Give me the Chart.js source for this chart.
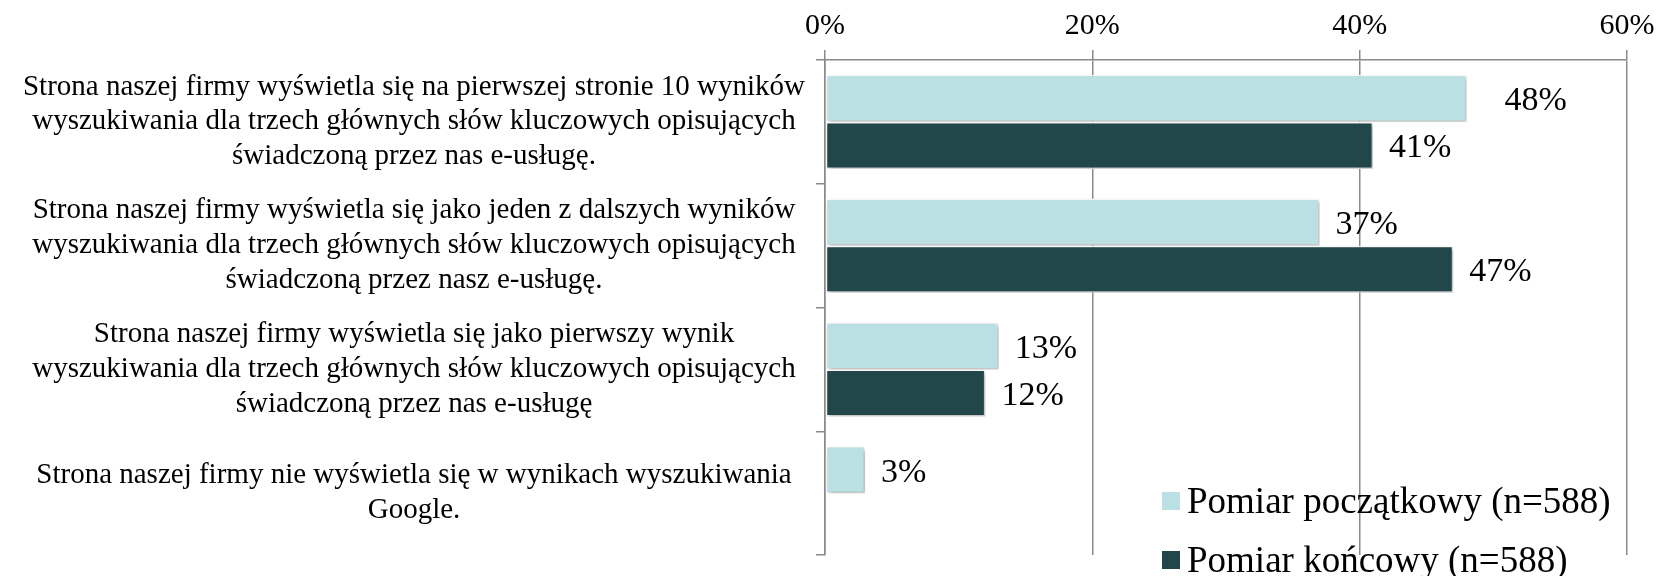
<!DOCTYPE html>
<html>
<head>
<meta charset="utf-8">
<script src="https://cdn.jsdelivr.net/npm/chart.js@4.4.1/dist/chart.umd.min.js"></script>
<style>
  html,body{margin:0;padding:0;background:#fff;}
  #wrap{position:relative;width:1667px;height:576px;overflow:hidden;}
  #legend{position:absolute;left:1162px;top:471px;font-family:'Liberation Serif','Times New Roman',serif;font-size:37px;color:#000;}
  .item{display:flex;align-items:center;height:59px;white-space:nowrap;}
  .sw{width:18px;height:18px;margin-right:7px;}
</style>
</head>
<body>
<div id="wrap">
  <canvas id="chart" width="1667" height="576"></canvas>
  <div id="legend"></div>
</div>
<script>
// ====== DATA ======
const categories = [
  ['Strona naszej firmy wyświetla się na pierwszej stronie 10 wyników', 'wyszukiwania dla trzech głównych słów kluczowych opisujących', 'świadczoną przez nas e-usługę.'],
  ['Strona naszej firmy wyświetla się jako jeden z dalszych wyników', 'wyszukiwania dla trzech głównych słów kluczowych opisujących', 'świadczoną przez nasz e-usługę.'],
  ['Strona naszej firmy wyświetla się jako pierwszy wynik', 'wyszukiwania dla trzech głównych słów kluczowych opisujących', 'świadczoną przez nas e-usługę'],
  ['Strona naszej firmy nie wyświetla się w wynikach wyszukiwania', 'Google.']
];
const seriesNames = ['Pomiar początkowy (n=588)', 'Pomiar końcowy (n=588)'];
const initialValues = [48, 37, 13, 3];
const finalValues = [41, 47, 12, null];
const xTicks = [0, 20, 40, 60];

// ====== STYLE ======
const FONT = "'Liberation Serif', 'Times New Roman', serif";
const colors = ['#bae0e3', '#21474b'];
const gridColor = '#8a8a8a';

// shadow under the bars
const shadowPlugin = {
  id: 'barShadow',
  beforeDatasetsDraw(chart){
    const ctx = chart.ctx;
    ctx.save();
    ctx.shadowColor = 'rgba(0,0,0,0.3)';
    ctx.shadowBlur = 4;
    ctx.shadowOffsetX = 2;
    ctx.shadowOffsetY = 2;
  },
  afterDatasetsDraw(chart){ chart.ctx.restore(); }
};

// value labels right of each bar
const valueLabels = {
  id: 'valueLabels',
  afterDraw(chart){
    const ctx = chart.ctx;
    ctx.save();
    ctx.font = '34px ' + FONT;
    ctx.fillStyle = '#000';
    ctx.textAlign = 'left';
    ctx.textBaseline = 'middle';
    chart.data.datasets.forEach((ds, di) => {
      chart.getDatasetMeta(di).data.forEach((bar, i) => {
        const v = ds.data[i];
        if (v === null || v === undefined) return;
        const extra = (di === 0 && i === 0) ? 22 : 0;
        ctx.fillText(v + '%', bar.x + 16 + extra, bar.y + 3);
      });
    });
    ctx.restore();
  }
};

const chart = new Chart(document.getElementById('chart'), {
  type: 'bar',
  data: {
    labels: categories,
    datasets: [
      {label: seriesNames[0], data: initialValues, backgroundColor: colors[0]},
      {label: seriesNames[1], data: finalValues, backgroundColor: colors[1]}
    ]
  },
  options: {
    indexAxis: 'y',
    responsive: false,
    animation: false,
    layout: {padding: {left: 0, right: 40, top: 0, bottom: 21}},
    datasets: {bar: {categoryPercentage: 0.76, barPercentage: 1.0, borderColor: '#fff', borderWidth: 1.5, borderSkipped: false}},
    plugins: {legend: {display: false}, tooltip: {enabled: false}},
    scales: {
      x: {
        position: 'top',
        min: 0, max: 60,
        afterBuildTicks: s => { s.ticks = xTicks.map(v => ({value: v})); },
        afterFit: s => { s.height = 60; s.paddingLeft = 0; s.paddingRight = 0; },
        ticks: {callback: v => v + '%', font: {family: FONT, size: 30}, color: '#000', padding: 6},
        grid: {color: gridColor, lineWidth: 1.5, tickLength: 10},
        border: {color: gridColor, width: 1.5}
      },
      y: {
        afterFit: s => { s.width = 825; s.paddingTop = 0; s.paddingBottom = 0; },
        ticks: {font: {family: FONT, size: 29, lineHeight: 1.2}, color: '#000', crossAlign: 'center', padding: 11},
        grid: {drawOnChartArea: false, offset: true, color: gridColor, lineWidth: 1.5, tickLength: 9},
        border: {color: gridColor, width: 1.5}
      }
    }
  },
  plugins: [shadowPlugin, valueLabels]
});

// legend
const legend = document.getElementById('legend');
seriesNames.forEach((name, i) => {
  const row = document.createElement('div');
  row.className = 'item';
  row.innerHTML = `<span class="sw" style="background:${colors[i]}"></span><span>${name}</span>`;
  legend.appendChild(row);
});
</script>
</body>
</html>
